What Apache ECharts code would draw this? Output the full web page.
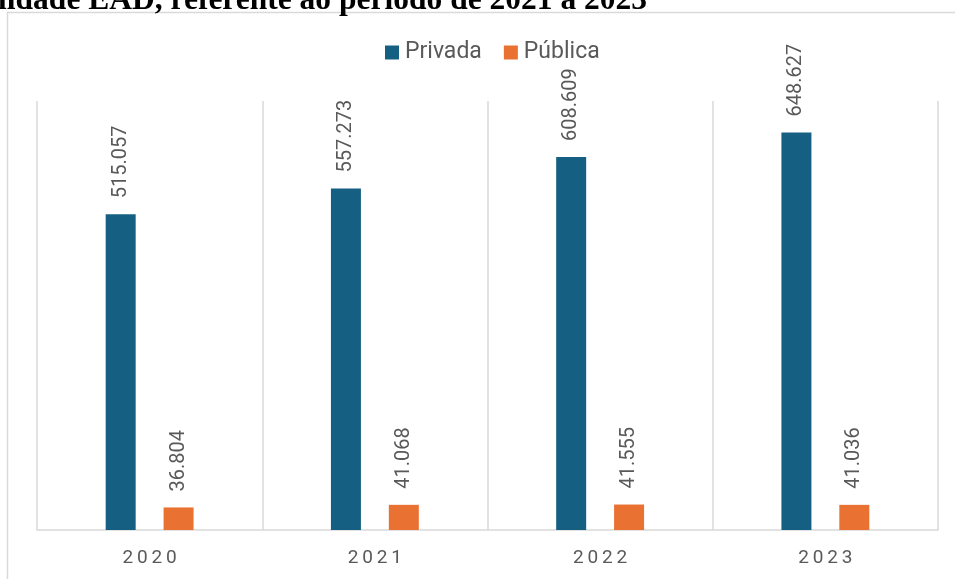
<!DOCTYPE html>
<html>
<head>
<meta charset="utf-8">
<script src="https://cdn.jsdelivr.net/npm/echarts@6/dist/echarts.min.js"></script>
<style>
  html, body { margin: 0; padding: 0; background: #ffffff; }
  #chart { width: 955px; height: 579px; }
</style>
</head>
<body>
<div id="chart"></div>
<script>
// Matrículas EAD por tipo de instituição
const years = ['2020', '2021', '2022', '2023'];
const privada = [515057, 557273, 608609, 648627];
const publica = [36804, 41068, 41555, 41036];
const seriesNames = ['Privada', 'Pública'];
const captionText = 'modalidade EAD, referente ao período de 2021 a 2023';

const gray = '#595959';
const lineGray = '#d9d9d9';

// Brazilian thousands separator: 515057 -> 515.057
function fmt(v) {
  return v.toString().replace(/\B(?=(\d{3})+(?!\d))/g, '.');
}

const chart = echarts.init(document.getElementById('chart'), null, { renderer: 'canvas' });

const valueLabel = {
  show: true,
  position: 'top',
  rotate: 90,
  align: 'left',
  verticalAlign: 'middle',
  distance: 16,
  color: gray,
  fontFamily: 'Roboto',
  fontSize: 20,
  formatter: p => fmt(p.value)
};

chart.setOption({
  animation: false,
  textStyle: { fontFamily: 'Roboto' },
  graphic: [
    {
      type: 'rect',
      shape: { x: 7.5, y: 12.5, width: 1000, height: 700 },
      style: { fill: 'none', stroke: lineGray, lineWidth: 1.5 },
      silent: true,
      z: -1
    },
    {
      type: 'text',
      x: 647,
      y: 17,
      style: {
        text: captionText,
        font: 'bold 31.5px "Liberation Serif"',
        fill: '#000000',
        textAlign: 'right',
        textVerticalAlign: 'bottom'
      }
    }
  ],
  legend: {
    data: seriesNames,
    top: 41,
    left: 385,
    padding: 0,
    icon: 'rect',
    itemWidth: 14,
    itemHeight: 14,
    itemGap: 22,
    itemStyle: { borderWidth: 0 },
    textStyle: { color: gray, fontSize: 23, fontFamily: 'Roboto', padding: [0, 0, 0, 1] }
  },
  grid: { left: 37, right: 17, top: 101, bottom: 49, containLabel: false },
  xAxis: {
    type: 'category',
    data: years,
    axisLine: { show: true, lineStyle: { color: lineGray, width: 1.5 } },
    axisTick: { show: false },
    splitLine: { show: true, interval: 0, lineStyle: { color: lineGray, width: 1.5 } },
    axisLabel: {
      color: gray,
      fontSize: 19,
      margin: 19,
      formatter: v => v.split('').join('\u2009')
    }
  },
  yAxis: {
    type: 'value',
    min: 0,
    max: 700000,
    show: false,
    splitLine: { show: false }
  },
  series: [
    {
      name: seriesNames[0],
      type: 'bar',
      data: privada,
      barWidth: 30,
      barGap: '93%',
      itemStyle: { color: '#156082' },
      label: valueLabel
    },
    {
      name: seriesNames[1],
      type: 'bar',
      data: publica,
      barWidth: 30,
      itemStyle: { color: '#E97132' },
      label: valueLabel
    }
  ]
});
</script>
</body>
</html>
